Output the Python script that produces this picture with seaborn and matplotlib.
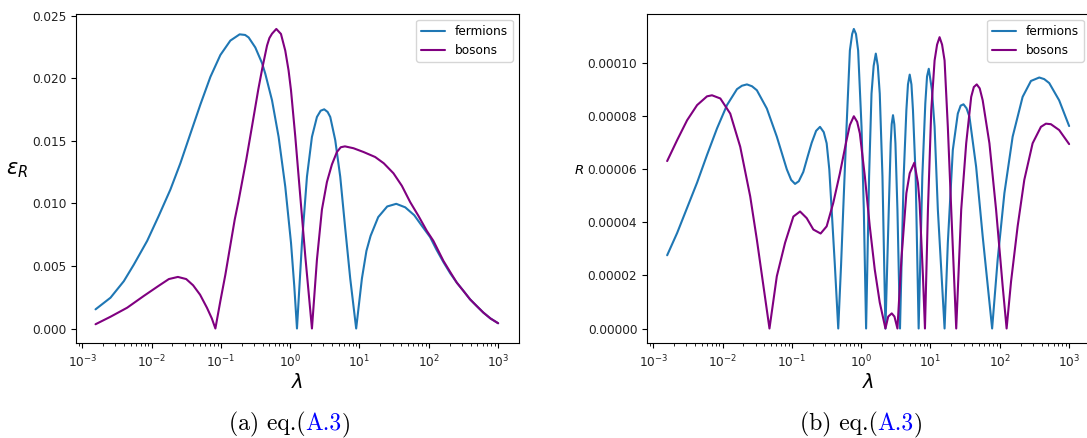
import numpy as np
import pandas as pd
import matplotlib
matplotlib.use("Agg")
import matplotlib.pyplot as plt
from matplotlib.ticker import LogLocator, NullFormatter
import seaborn as sns

# ---------------- data (log10 of lambda) ----------------
left_ferm_logl = [-2.808, -2.592, -2.40, -2.256, -2.063, -1.896, -1.728, -1.584, -1.44, -1.295,
                  -1.151, -1.007, -0.863, -0.729, -0.65, -0.599, -0.503, -0.406, -0.359, -0.262,
                  -0.167, -0.071, 0.012, 0.059, 0.098, 0.170, 0.242, 0.314, 0.386, 0.44,
                  0.491, 0.54, 0.578, 0.650, 0.722, 0.794, 0.866, 0.952, 1.035, 1.10,
                  1.16, 1.27, 1.40, 1.53, 1.66, 1.79, 1.90, 2.019, 2.11, 2.211,
                  2.31, 2.404, 2.5, 2.595, 2.69, 2.787, 2.89, 3.0]
left_ferm_val = [0.00153, 0.00246, 0.00378, 0.0051, 0.0070, 0.0090, 0.0111, 0.0132, 0.01555, 0.0179,
                 0.0201, 0.02185, 0.0230, 0.0235, 0.02345, 0.02325, 0.02245, 0.0212, 0.02035, 0.01823,
                 0.01531, 0.01134, 0.00684, 0.00339, 0.0, 0.00684, 0.01213, 0.01531, 0.0169, 0.0174,
                 0.01751, 0.0173, 0.0169, 0.01505, 0.01213, 0.0080, 0.0040, 0.0, 0.0040, 0.0062,
                 0.0074, 0.0089, 0.00975, 0.00996, 0.00968, 0.00905, 0.0082, 0.0073, 0.0063, 0.0053,
                 0.0044, 0.00366, 0.0030, 0.00233, 0.0018, 0.00127, 0.0008, 0.00042]

left_bos_logl = [-2.808, -2.592, -2.352, -2.112, -1.90, -1.75, -1.62, -1.50, -1.40, -1.30,
                 -1.20, -1.13, -1.079, -1.007, -0.935, -0.877, -0.80, -0.748, -0.633, -0.546,
                 -0.460, -0.402, -0.334, -0.30, -0.262, -0.200, -0.133, -0.071, -0.023, 0.012,
                 0.073, 0.146, 0.218, 0.314, 0.386, 0.458, 0.530, 0.602, 0.674, 0.73,
                 0.79, 0.914, 1.058, 1.226, 1.35, 1.49, 1.611, 1.731, 1.85, 1.971,
                 2.066, 2.211, 2.31, 2.404, 2.5, 2.595, 2.69, 2.787, 2.89, 3.0]
left_bos_val = [0.00034, 0.00094, 0.00166, 0.0026, 0.0034, 0.00395, 0.00412, 0.00395, 0.00345, 0.0027,
                0.00165, 0.0008, 0.0, 0.0022, 0.0043, 0.0062, 0.0087, 0.0101, 0.0135, 0.0163,
                0.0191, 0.0208, 0.0226, 0.0232, 0.02355, 0.02393, 0.02353, 0.0222, 0.02061, 0.01902,
                0.01537, 0.01054, 0.00577, 0.0, 0.0055, 0.0095, 0.0117, 0.0131, 0.0141, 0.01448,
                0.01455, 0.0144, 0.0141, 0.0137, 0.0132, 0.0124, 0.0114, 0.0101, 0.0090, 0.0078,
                0.0070, 0.0054, 0.0045, 0.00366, 0.0030, 0.00233, 0.0018, 0.00127, 0.0008, 0.00042]

right_ferm_logl = [-2.799, -2.655, -2.511, -2.367, -2.224, -2.08, -1.936, -1.792, -1.72, -1.648,
                   -1.575, -1.505, -1.361, -1.217, -1.073, -1.01, -0.954, -0.90, -0.835, -0.77,
                   -0.714, -0.65, -0.594, -0.54, -0.498, -0.46, -0.426, -0.38, -0.331, -0.29,
                   -0.259, -0.211, -0.163, -0.13, -0.106, -0.075, -0.044, 0.005, 0.038, 0.071,
                   0.114, 0.149, 0.18, 0.211, 0.24, 0.268, 0.307, 0.35, 0.398, 0.426,
                   0.44, 0.459, 0.478, 0.494, 0.523, 0.56, 0.613, 0.652, 0.675, 0.7,
                   0.725, 0.747, 0.786, 0.829, 0.882, 0.925, 0.95, 0.975, 1.02, 1.059,
                   1.106, 1.203, 1.25, 1.322, 1.394, 1.435, 1.476, 1.52, 1.562, 1.658,
                   1.753, 1.889, 1.969, 2.066, 2.185, 2.329, 2.449, 2.569, 2.64, 2.713,
                   2.856, 3.0]
right_ferm_val_e5 = [2.76, 3.6, 4.55, 5.5, 6.54, 7.54, 8.42, 9.02, 9.15, 9.2,
                     9.13, 8.98, 8.29, 7.23, 6.0, 5.6, 5.45, 5.55, 5.9, 6.5,
                     7.0, 7.45, 7.6, 7.4, 6.98, 6.0, 4.48, 2.4, 0.0, 2.4,
                     4.48, 7.6, 10.48, 11.1, 11.29, 11.1, 10.48, 7.6, 4.48, 0.0,
                     5.73, 8.85, 9.9, 10.36, 9.9, 8.85, 5.73, 0.0, 4.48, 6.98,
                     7.7, 8.04, 7.7, 6.98, 4.48, 0.0, 5.73, 8.23, 9.2, 9.57,
                     9.2, 8.23, 5.73, 0.0, 5.73, 8.48, 9.5, 9.79, 9.0, 7.6,
                     4.48, 0.0, 3.23, 6.73, 8.1, 8.4, 8.45, 8.3, 7.98, 6.1,
                     3.47, 0.0, 2.6, 5.1, 7.23, 8.73, 9.33, 9.46, 9.4, 9.25,
                     8.6, 7.63]

right_bos_logl = [-2.799, -2.655, -2.511, -2.367, -2.224, -2.152, -2.032, -1.889, -1.745, -1.601,
                  -1.505, -1.41, -1.323, -1.217, -1.098, -0.978, -0.882, -0.786, -0.69, -0.585,
                  -0.498, -0.403, -0.307, -0.211, -0.163, -0.106, -0.058, -0.019, 0.053, 0.124,
                  0.196, 0.268, 0.35, 0.39, 0.441, 0.48, 0.523, 0.58, 0.652, 0.70,
                  0.767, 0.819, 0.843, 0.891, 0.92, 0.963, 1.011, 1.059, 1.095, 1.131,
                  1.167, 1.203, 1.25, 1.299, 1.371, 1.443, 1.515, 1.587, 1.625, 1.667,
                  1.71, 1.753, 1.85, 1.946, 2.041, 2.098, 2.162, 2.257, 2.353, 2.473,
                  2.593, 2.665, 2.737, 2.856, 3.0]
right_bos_val_e5 = [6.31, 7.1, 7.85, 8.42, 8.75, 8.79, 8.67, 8.1, 6.85, 4.98,
                    3.35, 1.6, 0.0, 1.97, 3.23, 4.22, 4.41, 4.16, 3.73, 3.58,
                    3.85, 4.73, 5.85, 7.1, 7.67, 8.0, 7.79, 7.35, 5.73, 3.85,
                    2.22, 0.98, 0.0, 0.45, 0.57, 0.45, 0.0, 2.6, 5.1, 5.85,
                    6.25, 5.48, 4.73, 1.97, 0.0, 4.48, 8.23, 10.1, 10.7, 10.98,
                    10.7, 10.1, 7.6, 4.48, 0.0, 4.48, 6.98, 8.73, 9.1, 9.2,
                    9.05, 8.6, 6.98, 4.48, 1.6, 0.0, 1.77, 3.85, 5.6, 6.98,
                    7.6, 7.72, 7.7, 7.48, 6.95]

series_names = ["fermions", "bosons"]
series_colors = {"fermions": "#1f77b4", "bosons": "#800080"}
major_ticks = [1e-3, 1e-2, 1e-1, 1e0, 1e1, 1e2, 1e3]
captions = [("(a) eq.(", "A.3", ")"), ("(b) eq.(", "A.3", ")")]

# ---------------- style ----------------
sns.set_theme(style="ticks", rc={
    "axes.edgecolor": "black",
    "axes.linewidth": 0.8,
    "xtick.color": "black", "ytick.color": "black",
    "xtick.labelcolor": "#222222", "ytick.labelcolor": "#222222",
    "xtick.major.size": 3.5, "ytick.major.size": 3.5,
    "xtick.minor.size": 2.0, "ytick.minor.size": 2.0,
    "xtick.major.width": 0.8, "ytick.major.width": 0.8,
    "xtick.minor.width": 0.6, "ytick.minor.width": 0.6,
    "xtick.labelsize": 8.7, "ytick.labelsize": 8.7,
    "legend.fontsize": 8.7,
    "lines.linewidth": 1.5,
    "text.color": "black",
    "axes.labelcolor": "black",
})
plt.rcParams["font.family"] = ["DejaVu Sans"]
plt.rcParams["mathtext.fontset"] = "dejavusans"

fig = plt.figure(figsize=(10.87, 4.38), dpi=100)
axL = fig.add_axes([0.0699, 0.2158, 0.4075, 0.7523])
axR = fig.add_axes([0.5952, 0.2158, 0.4075, 0.7523])


def make_df(lf, vf, lb, vb):
    a = pd.DataFrame({"lam": 10 ** np.asarray(lf), "val": vf, "series": series_names[0]})
    b = pd.DataFrame({"lam": 10 ** np.asarray(lb), "val": vb, "series": series_names[1]})
    return pd.concat([a, b], ignore_index=True)


dfL = make_df(left_ferm_logl, left_ferm_val, left_bos_logl, left_bos_val)
dfR = make_df(right_ferm_logl, np.asarray(right_ferm_val_e5) * 1e-5,
              right_bos_logl, np.asarray(right_bos_val_e5) * 1e-5)

for ax, df in ((axL, dfL), (axR, dfR)):
    ax.set_xscale("log")
    sns.lineplot(data=df, x="lam", y="val", hue="series", hue_order=series_names,
                 palette=series_colors, estimator=None, sort=False, linewidth=1.5, ax=ax)
    h, l = ax.get_legend_handles_labels()
    ax.legend(h, l, loc="upper right", fontsize=8.7, frameon=True, framealpha=0.8,
              edgecolor="#cccccc", fancybox=True)
    for s in ax.spines.values():
        s.set_visible(True)
    ax.set_xticks(major_ticks)
    ax.xaxis.set_minor_locator(LogLocator(base=10, subs=np.arange(2, 10) * 1.0, numticks=20))
    ax.xaxis.set_minor_formatter(NullFormatter())
    ax.set_xlabel(r"$\lambda$", fontsize=14, labelpad=2)

axL.set_xlim(10 ** -3.09, 10 ** 3.30)
axR.set_xlim(10 ** -3.09, 10 ** 3.30)

axL.set_ylabel(r"$\varepsilon_R$", fontsize=15, rotation=0, ha="center", va="center")
axL.yaxis.set_label_coords(-0.133, 0.527)
axR.set_ylabel(r"$R$", fontsize=9.5, rotation=0, ha="center", va="center")
axR.yaxis.set_label_coords(-0.153, 0.5235)

# ---------------- captions ----------------
fig.canvas.draw()
renderer = fig.canvas.get_renderer()
for (pre, ref, post), xc in zip(captions, (289.5 / 1087, 861 / 1087)):
    parts = [(pre, "black"), (ref, "#0000ff"), (post, "black")]
    texts = [fig.text(xc, 0.03, s, color=c, fontsize=17, family="cmr10",
                      va="center", ha="left") for s, c in parts]
    widths = [t.get_window_extent(renderer).width / fig.bbox.width for t in texts]
    x = xc - sum(widths) / 2
    for t, w in zip(texts, widths):
        t.set_x(x)
        x += w

fig.savefig("out.png", dpi=100)
